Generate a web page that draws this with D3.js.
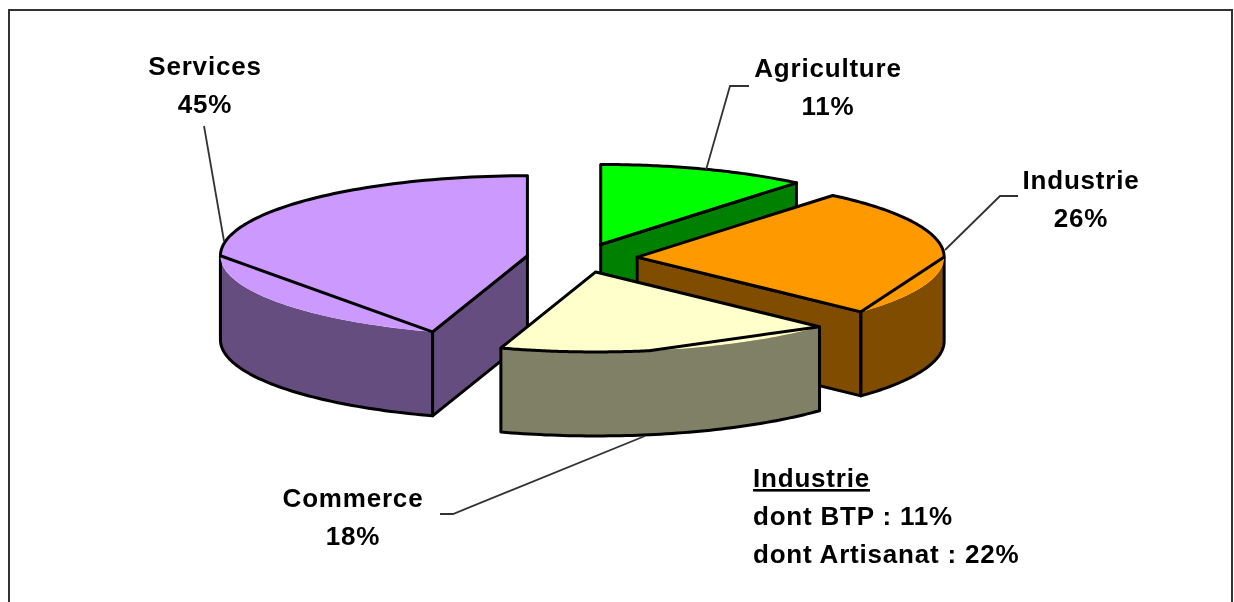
<!DOCTYPE html>
<html lang="fr">

<head>
  <meta charset="utf-8">
  <title>Répartition par secteur</title>
  <script src="https://d3js.org/d3.v7.min.js" charset="utf-8"></script>
  <style type="text/css">
    body {
      margin: 0;
      background: #fff;
    }

    svg {
      display: block;
    }

    text {
      font-family: "Liberation Sans", Arial, sans-serif;
      font-weight: bold;
      font-size: 26px;
      letter-spacing: 0.8px;
      fill: #000;
    }

    .edge {
      fill: none;
      stroke: #000;
      stroke-width: 3px;
      stroke-linejoin: round;
    }

    .leader {
      fill: none;
      stroke: #333;
      stroke-width: 1.8px;
    }
  </style>
</head>

<body>
  <script type="text/javascript">
    var categories = ["Agriculture", "Services", "Industrie", "Commerce"];
    var shares = [11, 45, 26, 18];
    var topColors = ["#00ff00", "#cc99ff", "#ff9900", "#ffffcc"];
    var wallColors = ["#008000", "#664d80", "#804d00", "#808066"];
    var noteLines = ["Industrie", "dont BTP : 11%", "dont Artisanat : 22%"];

    // pie order as drawn on the clock, the paint order is the one above
    var clockOrder = ["Agriculture", "Industrie", "Commerce", "Services"];

    var width = 1234,
      height = 602,
      cx = 582,
      cy = 258,
      rx = 307,
      ry = 80,
      depth = 84,
      explode = 0.18;

    var labelPos = {
      Agriculture: [828, 77],
      Industrie: [1081, 189],
      Commerce: [353, 507],
      Services: [205, 75]
    };

    var leaders = [
      [[204, 126], [224, 241]],
      [[749, 86], [730, 86], [706, 170]],
      [[1018, 196], [1000, 196], [945, 250]],
      [[440, 514], [453, 514], [645, 436]]
    ];

    var svg = d3.select("body")
      .append("svg")
      .attr("width", width)
      .attr("height", height);

    var blur = svg.append("defs").append("filter").attr("id", "soft");
    blur.append("feGaussianBlur").attr("stdDeviation", 0.45);

    var root = svg.append("g").attr("filter", "url(#soft)");

    // frame, cut off by the bottom of the page
    root.append("path")
      .attr("d", d3.line()([[9, height], [9, 10], [1232, 10], [1232, height]]))
      .attr("fill", "none")
      .attr("stroke", "#333")
      .attr("stroke-width", 2);

    var x = d3.scaleLinear().domain([-1, 1]).range([-rx, rx]);
    var y = d3.scaleLinear().domain([-1, 1]).range([ry, -ry]);

    var pie = d3.pie()
      .sort(null)
      .value(function (d) {
        return shares[categories.indexOf(d)];
      });

    var arcs = pie(clockOrder);
    var line = d3.line();

    // a point of slice d: 0 = centre, 1 = rim, drop = height below the top face
    function point(d, angle, radius, drop) {
      var mid = (d.startAngle + d.endAngle) / 2;
      return [
        cx + x(explode * Math.sin(mid) + radius * Math.sin(angle)),
        cy + y(explode * Math.cos(mid) + radius * Math.cos(angle)) + (drop || 0)
      ];
    }

    function rim(d, a0, a1, drop) {
      return d3.range(0, 61).map(function (i) {
        return point(d, a0 + (a1 - a0) * i / 60, 1, drop);
      });
    }

    var rad = Math.PI / 2;
    var commerceBreak = 170 * Math.PI / 180;

    function drawSlice(name) {
      var d = arcs[clockOrder.indexOf(name)];
      var i = categories.indexOf(name);
      var g = root.append("g");

      function cutFace(angle) {
        g.append("path")
          .attr("class", "edge")
          .style("fill", wallColors[i])
          .attr("d", line([point(d, 0, 0), point(d, angle, 1),
            point(d, angle, 1, depth), point(d, 0, 0, depth)]) + "Z");
      }

      // rim wall: filled up to the rim, stroked on the sides and the bottom only
      function rimWall(a0, a1) {
        g.append("path")
          .style("fill", wallColors[i])
          .attr("d", line(rim(d, a0, a1).concat(rim(d, a1, a0, depth))) + "Z");
        g.append("path")
          .attr("class", "edge")
          .attr("d", line([point(d, a0, 1)].concat(rim(d, a0, a1, depth), [point(d, a1, 1)])));
      }

      if (name == "Agriculture") {
        cutFace(d.endAngle);
      } else if (name == "Industrie") {
        cutFace(d.endAngle);
        rimWall(rad, d.endAngle);
      } else if (name == "Commerce") {
        rimWall(d.startAngle, d.endAngle);
      } else {
        cutFace(d.startAngle);
        rimWall(d.startAngle, 3 * rad);
      }

      g.append("path")
        .style("fill", topColors[i])
        .attr("d", line([point(d, 0, 0)].concat(rim(d, d.startAngle, d.endAngle))) + "Z");

      // the outline of the top face: the front of the rim is drawn as a chord
      var outline;
      if (name == "Agriculture") {
        outline = [point(d, 0, 0)].concat(rim(d, d.startAngle, d.endAngle));
      } else if (name == "Industrie") {
        outline = [point(d, 0, 0)].concat(rim(d, d.startAngle, rad), [point(d, d.endAngle, 1)]);
      } else if (name == "Commerce") {
        outline = [point(d, 0, 0), point(d, d.startAngle, 1)].concat(rim(d, commerceBreak, d.endAngle));
      } else {
        outline = [point(d, 0, 0), point(d, d.startAngle, 1)].concat(rim(d, 3 * rad, d.endAngle));
      }
      g.append("path").attr("class", "edge").attr("d", line(outline) + "Z");
    }

    categories.forEach(drawSlice);

    root.selectAll(".leader")
      .data(leaders)
      .enter()
      .append("path")
      .attr("class", "leader")
      .attr("d", function (d) {
        return line(d);
      });

    categories.forEach(function (name, i) {
      var p = labelPos[name];
      root.append("text")
        .attr("x", p[0])
        .attr("y", p[1])
        .attr("text-anchor", "middle")
        .text(name);
      root.append("text")
        .attr("x", p[0])
        .attr("y", p[1] + 38)
        .attr("text-anchor", "middle")
        .text(shares[i] + "%");
    });

    noteLines.forEach(function (t, i) {
      root.append("text")
        .attr("x", 753)
        .attr("y", 487 + i * 38)
        .attr("text-decoration", i == 0 ? "underline" : null)
        .text(t);
    });
  </script>
</body>

</html>
